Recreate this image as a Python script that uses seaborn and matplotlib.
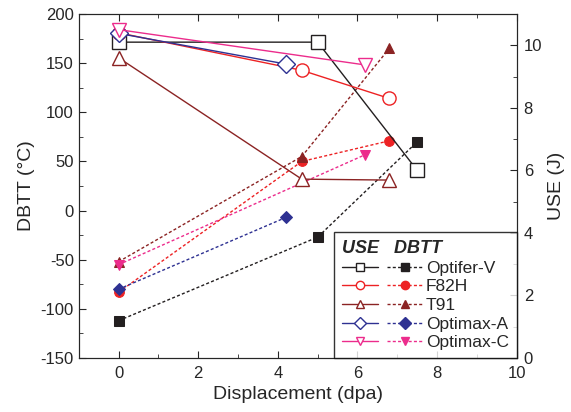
import matplotlib
matplotlib.use("Agg")
import matplotlib.pyplot as plt
import seaborn as sns
from matplotlib.lines import Line2D
from matplotlib.ticker import MultipleLocator

# data
alloys = ["Optifer-V", "F82H", "T91", "Optimax-A", "Optimax-C"]
colors = ["#231f20", "#ed2224", "#8b2323", "#2e3192", "#ec2c8c"]
use_markers = ["s", "o", "^", "D", "v"]

dpa = {
    "Optifer-V": [0, 5.0, 7.5],
    "F82H": [0, 4.6, 6.8],
    "T91": [0, 4.6, 6.8],
    "Optimax-A": [0, 4.2],
    "Optimax-C": [0, 6.2],
}
dbtt = {
    "Optifer-V": [-112, -27, 70],
    "F82H": [-83, 50, 71],
    "T91": [-52, 55, 165],
    "Optimax-A": [-80, -7],
    "Optimax-C": [-55, 57],
}
use = {
    "Optifer-V": [10.1, 10.1, 6.0],
    "F82H": [10.4, 9.2, 8.3],
    "T91": [9.6, 5.72, 5.69],
    "Optimax-A": [10.38, 9.4],
    "Optimax-C": [10.5, 9.37],
}

sns.set_style("ticks")
plt.rcParams["font.family"] = ["Liberation Sans", "DejaVu Sans"]
plt.rcParams["axes.unicode_minus"] = False
plt.rcParams["xtick.direction"] = "in"
plt.rcParams["ytick.direction"] = "in"

fig = plt.figure(figsize=(5.71, 4.12), dpi=100)
ax = fig.add_axes([0.138, 0.131, 0.767, 0.835])
ax2 = ax.twinx()

dot = (0, (2.2, 1.6))
for name, c, m in zip(alloys, colors, use_markers):
    sns.lineplot(x=dpa[name], y=dbtt[name], ax=ax, color=c, lw=1.0,
                 linestyle=dot, marker=m, markersize=6.5 if m != "o" else 7,
                 markerfacecolor=c, markeredgecolor=c)
    sns.lineplot(x=dpa[name], y=use[name], ax=ax2, color=c, lw=1.0,
                 marker=m, markersize=9.5, markerfacecolor="white",
                 markeredgecolor=c, markeredgewidth=1.0)

ax.set_xlim(-1, 10)
ax.set_ylim(-150, 200)
ax2.set_ylim(0, 11)
ax.xaxis.set_major_locator(MultipleLocator(2))
ax.xaxis.set_minor_locator(MultipleLocator(1))
ax.yaxis.set_major_locator(MultipleLocator(50))
ax.yaxis.set_minor_locator(MultipleLocator(25))
ax2.yaxis.set_major_locator(MultipleLocator(2))
ax2.yaxis.set_minor_locator(MultipleLocator(1))
ax.tick_params(axis="x", which="both", top=True, bottom=True)
ax.tick_params(which="major", length=5, labelsize=12)
ax.tick_params(which="minor", length=3)
ax.tick_params(axis="x", pad=5.5)
ax2.tick_params(which="major", length=5, labelsize=12, pad=5)
ax2.tick_params(which="minor", length=3)

ax.set_xlabel("Displacement (dpa)", fontsize=14)
ax.set_ylabel("DBTT (°C)", fontsize=14)
ax2.set_ylabel("USE (J)", fontsize=14)

handles = []
labels = []
for c, m in zip(colors, use_markers):
    handles.append(Line2D([], [], color=c, lw=1.0, marker=m, markersize=6,
                          markerfacecolor="white", markeredgecolor=c))
    labels.append("")
for name, c, m in zip(alloys, colors, use_markers):
    handles.append(Line2D([], [], color=c, lw=1.0, linestyle=dot, marker=m,
                          markersize=6, markerfacecolor=c, markeredgecolor=c))
    labels.append(name)

leg = ax2.legend(handles, labels, ncol=2, loc="lower right",
                 borderaxespad=0, frameon=True, fancybox=False,
                 edgecolor="black", fontsize=12.5, handlelength=2.1,
                 handletextpad=0.15, columnspacing=0.35, labelspacing=0.2,
                 borderpad=0.45, title="USE   DBTT", alignment="left",
                 title_fontproperties={"weight": "bold", "style": "italic",
                                       "size": 13})
leg.get_frame().set_linewidth(1.0)

fig.savefig("out.png", dpi=100)
